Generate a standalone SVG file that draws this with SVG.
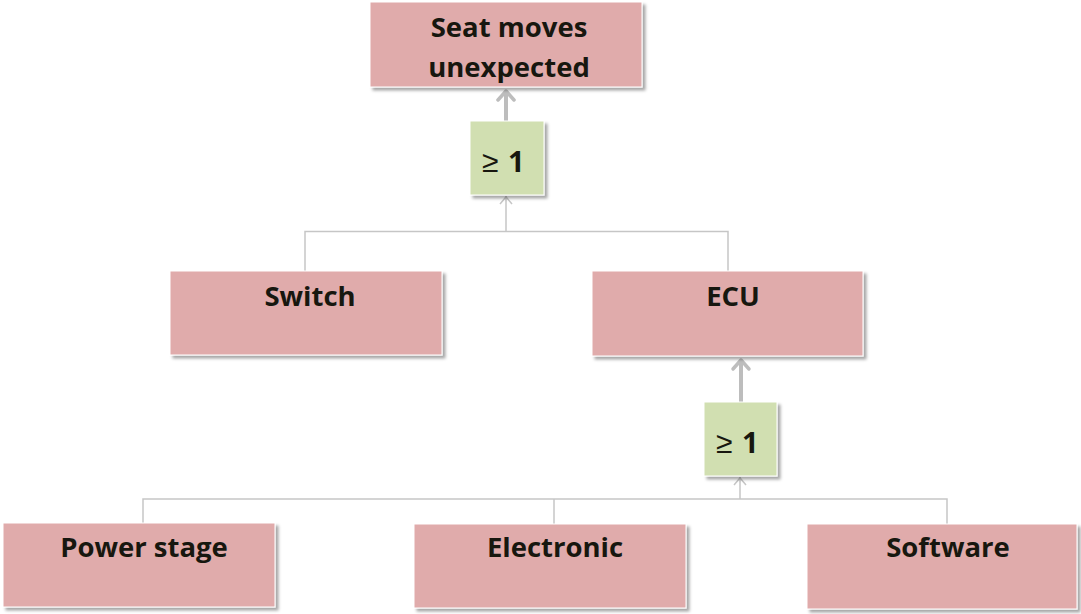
<svg xmlns="http://www.w3.org/2000/svg" width="1081" height="614" viewBox="0 0 1081 614">
<defs>
<filter id="sh" x="-5%" y="-5%" width="115%" height="125%">
<feDropShadow dx="3" dy="3" stdDeviation="1.5" flood-color="#000" flood-opacity="0.35"/>
</filter>
</defs>
<style>
.box{fill:#e0abab;stroke:#fff;stroke-width:1;filter:url(#sh)}
.gate{fill:#d1dfb1;stroke:#fff;stroke-width:1;filter:url(#sh)}
.lbl{font-family:"Open Sans","Liberation Sans",sans-serif;font-weight:bold;font-size:27.5px;fill:#17170f;text-anchor:middle}
.ge{font-family:"Liberation Sans",sans-serif;font-size:30px;fill:#17170f}
.g1{font-family:"Open Sans","Liberation Sans",sans-serif;font-weight:bold;font-size:29px;fill:#17170f}
.thin{fill:none;stroke:#c6c6c6;stroke-width:1.5}
.thick{fill:none;stroke:#bdbdbd;stroke-width:4}
.head{fill:none;stroke:#bdbdbd;stroke-width:3.5;stroke-linecap:round;stroke-linejoin:round}
.thead{fill:none;stroke:#c6c6c6;stroke-width:1.5}
</style>
<g id="connectors">
<polyline class="thin" points="305,271 305,231.5 728,231.5 728,271"/>
<line class="thin" x1="506" y1="231.5" x2="506" y2="196"/>
<polyline class="thead" points="500,204 506,197 512,204"/>
<line class="thick" x1="506" y1="121" x2="506" y2="91"/>
<polyline class="head" points="498,100 506,91 514,100"/>
<polyline class="thin" points="143,523 143,499 947,499 947,524"/>
<line class="thin" x1="554" y1="499" x2="554" y2="524"/>
<line class="thin" x1="740" y1="499" x2="740" y2="477"/>
<polyline class="thead" points="734,485 740,478 746,485"/>
<line class="thick" x1="741" y1="402" x2="741" y2="360"/>
<polyline class="head" points="733,369 741,360 749,369"/>
</g>
<g id="top">
<rect class="box" x="370" y="2" width="272" height="85"/>
<text class="lbl" x="509" y="37">Seat moves</text>
<text class="lbl" x="509" y="77">unexpected</text>
</g>
<g id="gate1">
<rect class="gate" x="470" y="121" width="74" height="74"/>
<text class="ge" x="482" y="172">≥</text>
<text class="g1" x="508" y="172">1</text>
</g>
<g id="switch">
<rect class="box" x="170" y="271" width="272" height="84"/>
<text class="lbl" x="310" y="306">Switch</text>
</g>
<g id="ecu">
<rect class="box" x="592" y="271" width="271" height="85"/>
<text class="lbl" x="733" y="306">ECU</text>
</g>
<g id="gate2">
<rect class="gate" x="704" y="402" width="73" height="74"/>
<text class="ge" x="716" y="453">≥</text>
<text class="g1" x="742" y="453">1</text>
</g>
<g id="power">
<rect class="box" x="3" y="523" width="272" height="84"/>
<text class="lbl" x="144" y="557">Power stage</text>
</g>
<g id="electronic">
<rect class="box" x="414" y="524" width="272" height="84"/>
<text class="lbl" x="555" y="557">Electronic</text>
</g>
<g id="software">
<rect class="box" x="807" y="524" width="270" height="85"/>
<text class="lbl" x="948" y="557">Software</text>
</g>
</svg>
